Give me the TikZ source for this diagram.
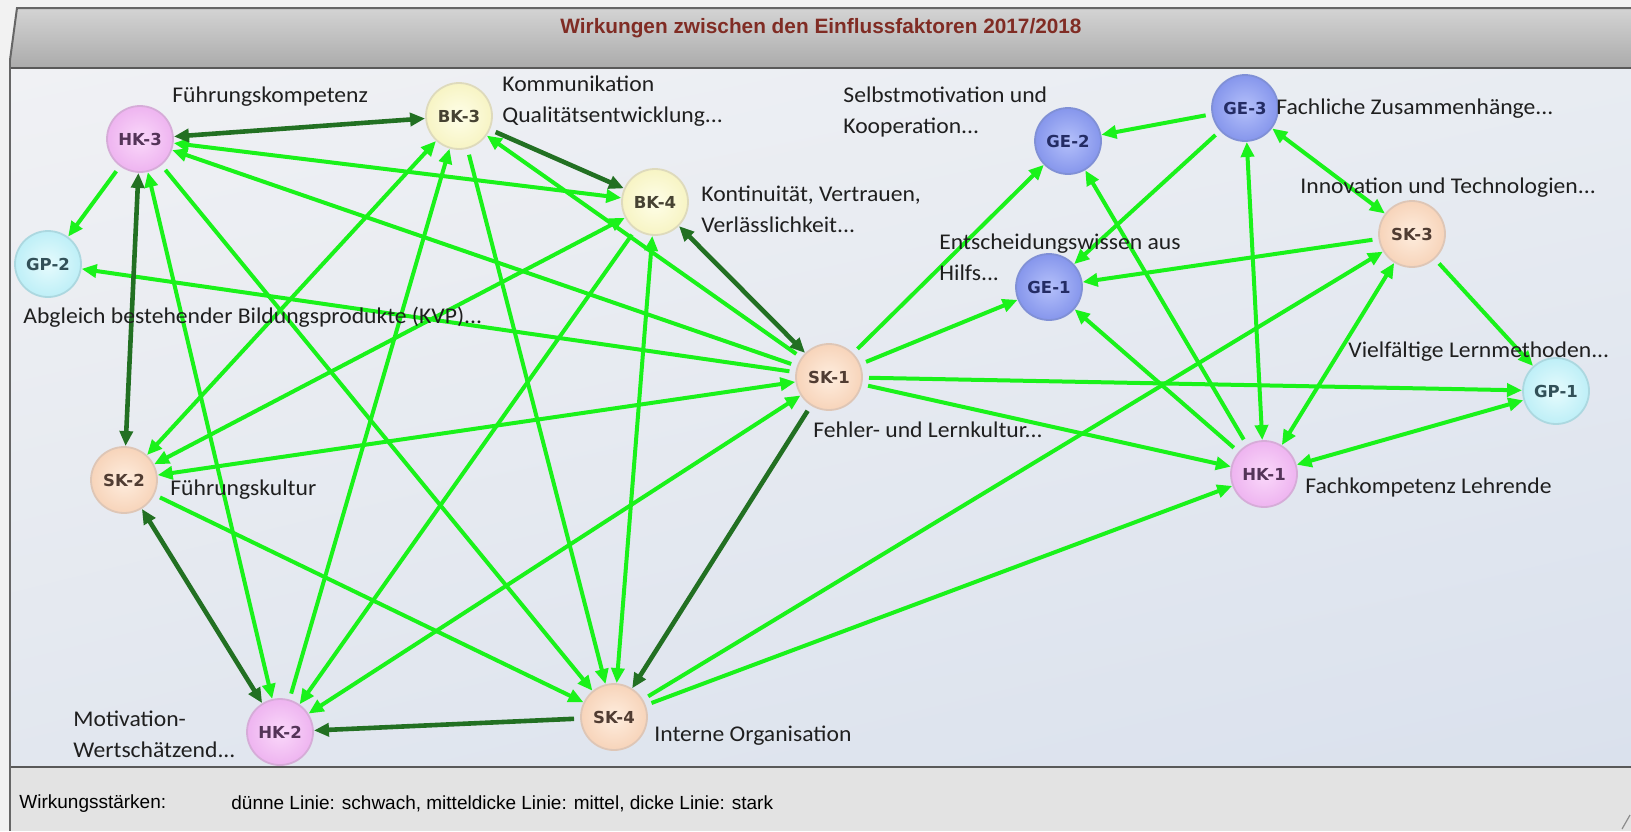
\documentclass[tikz,border=0pt]{standalone}
\usepackage{fontspec}
\setmainfont{Carlito}
\newfontfamily\labelfont[FakeStretch=1.05]{Carlito}
\newfontfamily\codefont{DejaVu Sans}
\newfontfamily\panelfont{Liberation Sans}
\usetikzlibrary{arrows.meta,shadings}

\definecolor{weakgreen}{RGB}{26,242,26}
\definecolor{stronggreen}{RGB}{34,112,34}
\definecolor{titlered}{RGB}{128,44,36}
\definecolor{areaul}{RGB}{240,241,244}
\definecolor{areaur}{RGB}{232,236,242}
\definecolor{areall}{RGB}{226,231,239}
\definecolor{arealr}{RGB}{218,225,237}
\definecolor{hkin}{RGB}{250,216,250}
\definecolor{hkout}{RGB}{238,180,240}
\definecolor{hkrim}{RGB}{214,172,216}
\definecolor{hktext}{RGB}{84,52,88}
\definecolor{bkin}{RGB}{254,254,232}
\definecolor{bkout}{RGB}{247,244,196}
\definecolor{bkrim}{RGB}{222,218,188}
\definecolor{bktext}{RGB}{70,66,50}
\definecolor{gpin}{RGB}{230,251,253}
\definecolor{gpout}{RGB}{190,239,247}
\definecolor{gprim}{RGB}{172,216,224}
\definecolor{gptext}{RGB}{50,80,88}
\definecolor{gein}{RGB}{180,192,250}
\definecolor{geout}{RGB}{134,150,236}
\definecolor{gerim}{RGB}{128,144,214}
\definecolor{getext}{RGB}{36,44,100}
\definecolor{skin}{RGB}{254,237,222}
\definecolor{skout}{RGB}{247,212,186}
\definecolor{skrim}{RGB}{222,198,182}
\definecolor{sktext}{RGB}{80,60,50}

\pgfdeclarelayer{frame}
\pgfdeclarelayer{links}
\pgfsetlayers{frame,links,main}

\tikzset{
  factor/.style={circle, minimum size=33pt, inner sep=0pt, outer sep=0.5pt, line width=0.9pt,
    font=\codefont\bfseries\fontsize{8.25}{9}\selectfont},
  hk/.style={factor, draw=hkrim, inner color=hkin, outer color=hkout, text=hktext},
  bk/.style={factor, draw=bkrim, inner color=bkin, outer color=bkout, text=bktext},
  gp/.style={factor, draw=gprim, inner color=gpin, outer color=gpout, text=gptext},
  ge/.style={factor, draw=gerim, inner color=gein, outer color=geout, text=getext},
  sk/.style={factor, draw=skrim, inner color=skin, outer color=skout, text=sktext},
  lbl/.style={anchor=west, inner sep=0pt, align=left, text=black!88,
    font=\labelfont\fontsize{11.25}{15.5}\selectfont},
  >={Triangle[length=7.5pt,width=6.5pt]},
  weak/.style={draw=weakgreen, line width=2pt},
  strong/.style={draw=stronggreen, line width=2.3pt},
  one/.style={->, shorten <=3pt},
  two/.style={<->}
}

\begin{document}
\begin{tikzpicture}[x=0.5pt, y=-0.5pt]
   \useasboundingbox (0,0) rectangle (1631,831);

   \begin{pgfonlayer}{frame}
    \fill[black!5] (0,0) rectangle (1631,831);
    \shade[top color=black!17, bottom color=black!33] (10,60) -- (17,8) -- (1631,8) -- (1631,68) -- (10,68) -- cycle;
    \shade[upper left=areaul, upper right=areaur, lower left=areall, lower right=arealr] (10,68) rectangle (1631,767);
    \fill[black!11] (10,767) rectangle (1631,831);
    \draw[black!60, line width=1pt] (10,60) -- (17,8) -- (1631,8);
    \draw[black!65, line width=1.3pt] (10,68) -- (1631,68);
    \draw[black!65, line width=1.3pt] (10,767) -- (1631,767);
    \draw[black!60, line width=0.8pt] (10,60) -- (10,831);
    \draw[black!45, line width=0.6pt] (1622,829) -- (1630,815);
   \end{pgfonlayer}

   \node[font=\panelfont\bfseries\fontsize{10.4}{12}\selectfont, text=titlered] (title) at (821,28)
        {Wirkungen zwischen den Einflussfaktoren 2017/2018};
   \node[font=\panelfont\fontsize{9.5}{11}\selectfont, anchor=west, inner sep=0pt] (keyhead) at (19,804) {Wirkungsstärken:};
   \node[font=\panelfont\fontsize{9.5}{11}\selectfont, anchor=west, inner sep=0pt] (keytext) at (231,804)
        {dünne Linie: schwach, mitteldicke Linie: mittel, dicke Linie: stark};

   \node[hk] (hk3) at ( 140,139) {HK-3};
   \node[gp] (gp2) at (  48,264) {GP-2};
   \node[bk] (bk3) at ( 459,116) {BK-3};
   \node[bk] (bk4) at ( 655,202) {BK-4};
   \node[sk] (sk1) at ( 829,377) {SK-1};
   \node[sk] (sk2) at ( 124,480) {SK-2};
   \node[hk] (hk2) at ( 280,732) {HK-2};
   \node[sk] (sk4) at ( 614,717) {SK-4};
   \node[ge] (ge2) at (1068,141) {GE-2};
   \node[ge] (ge1) at (1049,287) {GE-1};
   \node[ge] (ge3) at (1245,108) {GE-3};
   \node[sk] (sk3) at (1412,234) {SK-3};
   \node[gp] (gp1) at (1556,391) {GP-1};
   \node[hk] (hk1) at (1264,474) {HK-1};

   \node[lbl] (lhk3) at ( 172, 97) {Führungskompetenz};
   \node[lbl] (lbk3) at ( 502,101) {Kommunikation\\Qualitätsentwicklung...};
   \node[lbl] (lbk4) at ( 701,209) {Kontinuität, Vertrauen,\\Verlässlichkeit...};
   \node[lbl] (lge2) at ( 843,112) {Selbstmotivation und\\Kooperation...};
   \node[lbl] (lge1) at ( 939,257) {Entscheidungswissen aus\\Hilfs...};
   \node[lbl] (lge3) at (1276,109) {Fachliche Zusammenhänge...};
   \node[lbl] (lsk3) at (1300,188) {Innovation und Technologien...};
   \node[lbl] (lgp1) at (1348,352) {Vielfältige Lernmethoden...};
   \node[lbl] (lgp2) at (  23,317) {Abgleich bestehender Bildungsprodukte (KVP)...};
   \node[lbl] (lsk1) at ( 813,430) {Fehler- und Lernkultur...};
   \node[lbl] (lsk2) at ( 170,490) {Führungskultur};
   \node[lbl] (lhk1) at (1305,487) {Fachkompetenz Lehrende};
   \node[lbl] (lhk2) at (  73,734) {Motivation-\\Wertschätzend...};
   \node[lbl] (lsk4) at ( 654,736) {Interne Organisation};

   \begin{pgfonlayer}{links}
    \draw[weak,one] (hk3) -- (gp2);
    \draw[weak,two] (hk3) -- (bk4);
    \draw[weak,one] (sk1) -- (hk3);
    \draw[weak,two] (hk2) -- (hk3);
    \draw[weak,one] (hk3) -- (sk4);
    \draw[weak,one] (sk1) -- (bk3);
    \draw[weak,one] (sk1) -- (gp2);
    \draw[weak,two] (sk2) -- (sk1);
    \draw[weak,two] (hk2) -- (sk1);
    \draw[weak,two] (sk2) -- (bk3);
    \draw[weak,one] (hk2) -- (bk3);
    \draw[weak,one] (bk3) -- (sk4);
    \draw[weak,two] (sk2) -- (bk4);
    \draw[weak,one] (bk4) -- (hk2);
    \draw[weak,two] (bk4) -- (sk4);
    \draw[weak,one] (sk2) -- (sk4);
    \draw[weak,one] (sk1) -- (ge2);
    \draw[weak,one] (sk1) -- (ge1);
    \draw[weak,one] (sk1) -- (gp1);
    \draw[weak,one] (sk1) -- (hk1);
    \draw[weak,one] (sk4) -- (sk3);
    \draw[weak,one] (sk4) -- (hk1);
    \draw[weak,one] (ge3) -- (ge2);
    \draw[weak,one] (ge3) -- (ge1);
    \draw[weak,two] (ge3) -- (hk1);
    \draw[weak,two] (ge3) -- (sk3);
    \draw[weak,one] (hk1) -- (ge2);
    \draw[weak,one] (sk3) -- (ge1);
    \draw[weak,one] (hk1) -- (ge1);
    \draw[weak,two] (sk3) -- (hk1);
    \draw[weak,one] (sk3) -- (gp1);
    \draw[weak,two] (hk1) -- (gp1);

    \draw[strong,two] (hk3) -- (bk3);
    \draw[strong,one] (bk3) -- (bk4);
    \draw[strong,two] (bk4) -- (sk1);
    \draw[strong,two] (hk3) -- (sk2);
    \draw[strong,two] (sk2) -- (hk2);
    \draw[strong,one] (sk4) -- (hk2);
    \draw[strong,one] (sk1) -- (sk4);
   \end{pgfonlayer}
\end{tikzpicture}
\end{document}
